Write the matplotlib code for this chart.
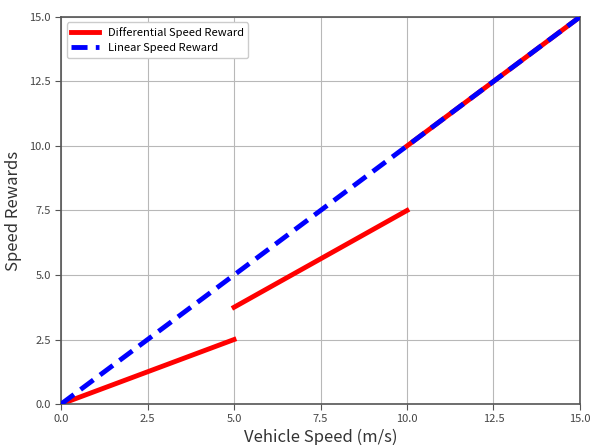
import matplotlib
matplotlib.use("Agg")
import matplotlib.pyplot as plt

plt.rcParams['font.family'] = ['Noto Sans CJK KR', 'DejaVu Sans']

# differential reward: piecewise segments
diff_x = [[0, 5], [5, 10], [10, 15]]
diff_y = [[0, 2.5], [3.75, 7.5], [10, 15]]
# linear reward
lin_x = [0, 15]
lin_y = [0, 15]
ticks = [0.0, 2.5, 5.0, 7.5, 10.0, 12.5, 15.0]

fig = plt.figure(figsize=(5.93, 4.45), dpi=100)
ax = fig.add_axes([0.103, 0.092, 0.875, 0.870])

for i, (xs, ys) in enumerate(zip(diff_x, diff_y)):
    ax.plot(xs, ys, color='red', linewidth=3.5,
            label='Differential Speed Reward' if i == 0 else None, zorder=2)
ax.plot(lin_x, lin_y, color='blue', linewidth=3.5, linestyle='--',
        dashes=(3.3, 1.7), label='Linear Speed Reward', zorder=3)

ax.set_xlim(0, 15)
ax.set_ylim(0, 15)
ax.set_xticks(ticks)
ax.set_yticks(ticks)
ax.set_xticklabels([f'{t:.1f}' for t in ticks])
ax.set_yticklabels([f'{t:.1f}' for t in ticks])
ax.tick_params(labelsize=8, colors='#555555', labelcolor='#444444', length=4)
ax.grid(True, color='#b8b8b8', linewidth=0.8)
ax.set_axisbelow(True)
for s in ax.spines.values():
    s.set_color('#555555')
    s.set_linewidth(1.2)

ax.set_xlabel('Vehicle Speed (m/s)', fontsize=12, color='#333333', labelpad=3)
ax.set_ylabel('Speed Rewards', fontsize=12, color='#333333', labelpad=5)

leg = ax.legend(loc='upper left', fontsize=8, handlelength=2.5, framealpha=1)
leg.get_frame().set_edgecolor('#cccccc')

fig.savefig('out.png', dpi=100)
